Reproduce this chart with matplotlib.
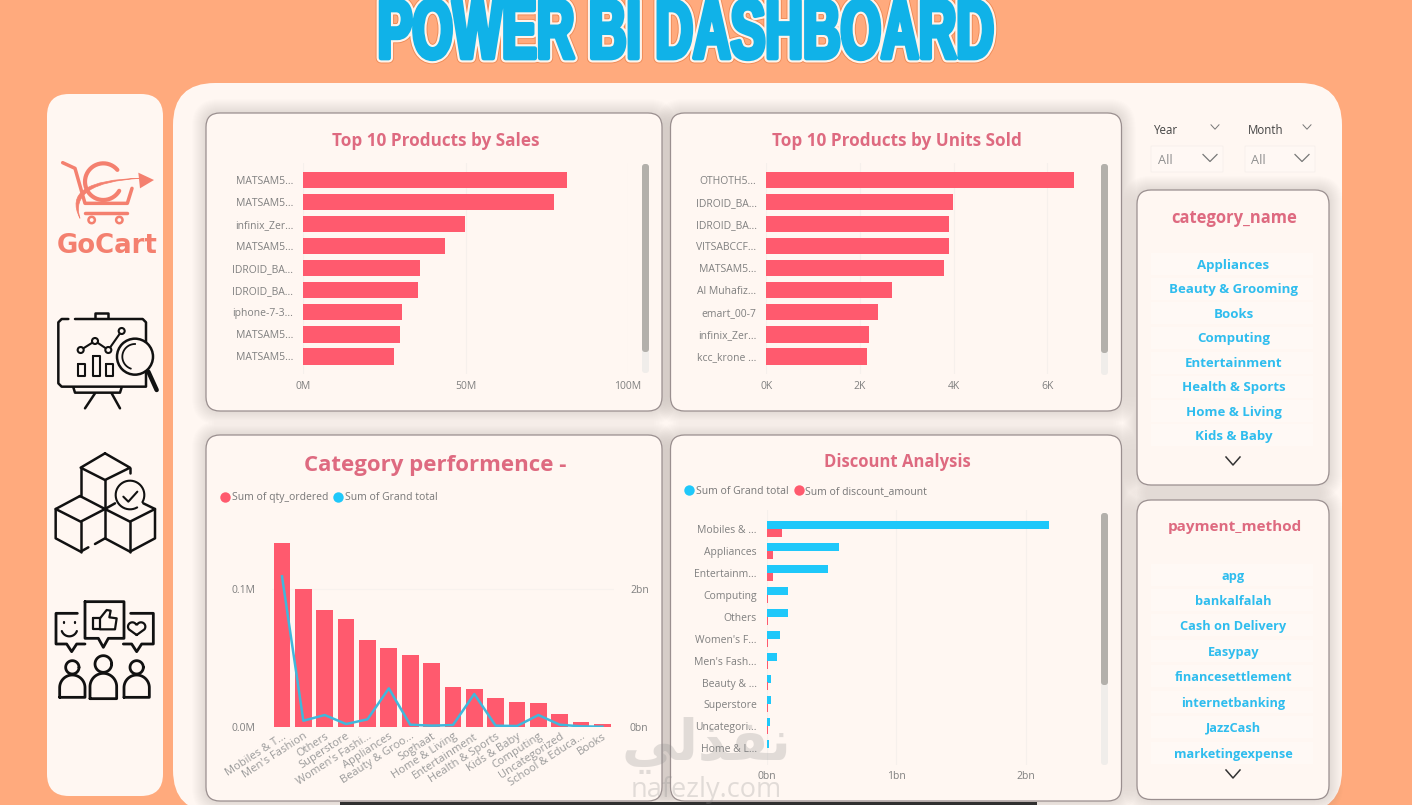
import numpy as np
import matplotlib
matplotlib.use("Agg")
import matplotlib.pyplot as plt
import matplotlib.patheffects as pe
from matplotlib.lines import Line2D
from matplotlib.patches import FancyBboxPatch, Circle, PathPatch, Polygon
from matplotlib.path import Path
from matplotlib.transforms import Affine2D

W, H = 1412, 805

# top 10 products by sales (M)
sales_labels = ["MATSAM5...", "MATSAM5...", "infinix_Zer...", "MATSAM5...", "IDROID_BA...",
                "IDROID_BA...", "iphone-7-3...", "MATSAM5...", "MATSAM5..."]
sales_values = [81.2, 77.1, 49.7, 43.6, 35.9, 35.3, 30.4, 29.9, 28.1]

# top 10 products by units (K)
units_labels = ["OTHOTH5...", "IDROID_BA...", "IDROID_BA...", "VITSABCCF...", "MATSAM5...",
                "Al Muhafiz...", "emart_00-7", "infinix_Zer...", "kcc_krone ..."]
units_values = [6.58, 3.99, 3.91, 3.90, 3.79, 2.68, 2.39, 2.19, 2.14]

# category performance
cat_labels = ["Mobiles & T...", "Men's Fashion", "Others", "Superstore", "Women's Fashi...",
              "Appliances", "Beauty & Groo...", "Soghaat", "Home & Living", "Entertainment",
              "Health & Sports", "Kids & Baby", "Computing", "Uncategorized",
              "School & Educa...", "Books"]
cat_qty = [0.134, 0.1005, 0.0847, 0.0784, 0.0629, 0.0573, 0.0522, 0.0466,
           0.0291, 0.0272, 0.0206, 0.0177, 0.0170, 0.0095, 0.0036, 0.0022]
cat_total = [2.19, 0.087, 0.17, 0.039, 0.107, 0.558, 0.029, 0.015,
             0.024, 0.476, 0.015, 0.01, 0.17, 0.029, 0.005, 0.0]

# discount analysis
disc_labels = ["Mobiles & ...", "Appliances", "Entertainm...", "Computing", "Others", "Women's F...",
               "Men's Fash...", "Beauty & ...", "Superstore", "Uncategori...", "Home & L..."]
disc_total = [2.18, 0.555, 0.473, 0.167, 0.162, 0.10, 0.08, 0.036, 0.031, 0.028, 0.02]
disc_amount = [0.12, 0.046, 0.046, 0.012, 0.008, 0.008, 0.008, 0.008, 0.008, 0.008, 0.006]

# slicers
category_items = ["Appliances", "Beauty & Grooming", "Books", "Computing",
                  "Entertainment", "Health & Sports", "Home & Living", "Kids & Baby"]
payment_items = ["apg", "bankalfalah", "Cash on Delivery", "Easypay",
                 "financesettlement", "internetbanking", "JazzCash", "marketingexpense"]

ORANGE = "#FFAA7D"
PANEL = "#FFF7F2"
RED = "#FF5A6E"
CYAN = "#1FC8FA"
TITLE = "#DE6A80"
GREY = "#808080"
LOGO = "#F4806F"
BLUE = "#10B2E8"
FONT = "Open Sans"

plt.rcParams["font.family"] = [FONT, "DejaVu Sans"]

fig = plt.figure(figsize=(W / 100, H / 100), dpi=100, facecolor=ORANGE)

bg = fig.add_axes([0, 0, 1, 1], zorder=0)
bg.set_xlim(0, W)
bg.set_ylim(H, 0)
bg.axis("off")


class Squeezed(pe.AbstractPathEffect):
    # no condensed heavy font here, so narrow the glyphs when they are drawn
    def __init__(self, sx, cx, layers):
        super().__init__()
        self.sx = sx
        self.cx = cx
        self.layers = layers

    def draw_path(self, renderer, gc, tpath, affine, rgbFace):
        squeezed = affine + Affine2D().translate(-self.cx, 0).scale(self.sx, 1).translate(self.cx, 0)
        for lw, color in self.layers:
            gc0 = renderer.new_gc()
            gc0.copy_properties(gc)
            gc0.set_linewidth(lw)
            gc0.set_foreground(color)
            gc0.set_joinstyle("round")
            renderer.draw_path(gc0, tpath, squeezed, rgbFace=matplotlib.colors.to_rgb(color))
            gc0.restore()


def rrect(x0, y0, x1, y1, r, fc=PANEL, ec="none", lw=0, ax=bg, z=1, alpha=None):
    p = FancyBboxPatch((x0, y0), x1 - x0, y1 - y0, boxstyle="round,pad=0,rounding_size=%s" % r,
                       fc=fc, ec=ec, lw=lw, zorder=z, alpha=alpha)
    ax.add_patch(p)


def card(x0, y0, x1, y1, r=14):
    # soft shadow, then the card itself
    for d in range(1, 15):
        rrect(x0 - d, y0 - d, x1 + d, y1 + d, r + d, fc="#7A5A5A", z=2, alpha=0.012)
    rrect(x0, y0, x1, y1, r, ec="#9A8F8F", lw=0.9, z=3)


def chart_axes(x0, x1, y0, y1, z=2):
    a = fig.add_axes([x0 / W, 1 - y1 / H, (x1 - x0) / W, (y1 - y0) / H], zorder=z)
    a.patch.set_alpha(0)
    for s in a.spines.values():
        s.set_visible(False)
    return a


def scrollbar(x0, x1, y0, y1, y2):
    rrect(x0, y0, x1, y2, 3, fc="#F0EDEA", z=4)
    rrect(x0, y0, x1, y1, 3, fc="#B3B0AB", z=5)


def chevron(x, y, w=7, h=4, color="#555555", lw=1.0):
    bg.plot([x - w, x, x + w], [y - h, y + h, y - h], color=color, lw=lw, zorder=6)


rrect(47, 94, 163, 796, 22)
rrect(173, 83, 1342, 812, 42)

card(206, 113, 662, 411)
card(670.5, 113, 1121.5, 411)
card(206, 435, 662, 801)
card(670.5, 435, 1121.5, 801)
card(1137, 190, 1329, 485)
card(1137, 500, 1329, 799.5)

bg.add_patch(plt.Rectangle((340, 802), 697, 4, fc="#303030", ec="none", zorder=7))

# page title
bg.text(686, 58, "POWER BI DASHBOARD", fontsize=60, fontweight="bold", color=BLUE,
        family="Liberation Sans", ha="center", va="baseline", zorder=8,
        path_effects=[Squeezed(0.625, 686, [(7.8, "#F08A55"), (6.5, "#FFF3EA"), (3.4, BLUE)])])

# chart titles
bg.text(435.5, 141, "Top 10 Products by Sales", fontsize=12.3, fontweight="bold", color=TITLE, ha="center", va="center", zorder=6)
bg.text(897, 141, "Top 10 Products by Units Sold", fontsize=12.3, fontweight="bold", color=TITLE, ha="center", va="center", zorder=6)
bg.text(434.7, 465.5, "Category performence -", fontsize=16, fontweight="bold", color=TITLE, ha="center", va="center", zorder=6)
bg.text(897.5, 462, "Discount Analysis", fontsize=12, fontweight="bold", color=TITLE, ha="center", va="center", zorder=6)


def bar_chart(a, labels, values, xlim, ticks, ticklabels):
    y = np.arange(len(values))
    a.barh(y, values, height=0.74, color=RED, zorder=3)
    a.set_xlim(*xlim)
    a.set_yticks(y, labels)
    a.set_xticks(ticks, ticklabels)
    a.tick_params(axis="both", length=0, labelsize=7.5, labelcolor=GREY)
    a.tick_params(axis="y", pad=7)
    a.tick_params(axis="x", pad=5)
    a.grid(axis="x", color="#F6F0EC", lw=0.8, zorder=0)
    a.set_axisbelow(True)


ax1 = chart_axes(303, 628, 163, 374)
bar_chart(ax1, sales_labels, sales_values, (0, 100), [0, 50, 100], ["0M", "50M", "100M"])
ax1.set_ylim((374 - 180) / 22.05, (163 - 180) / 22.05)
scrollbar(642, 649, 164, 352, 373)

ax2 = chart_axes(766.3, 1094.1, 163, 374)
bar_chart(ax2, units_labels, units_values, (0, 7), [0, 2, 4, 6], ["0K", "2K", "4K", "6K"])
ax2.set_ylim((374 - 180) / 22.05, (163 - 180) / 22.05)
scrollbar(1101, 1108, 164, 353, 375)

# category performance, columns and line on two scales
ax3 = chart_axes(272, 614, 530, 726.7)
xpos = np.arange(len(cat_qty))
ax3.bar(xpos, cat_qty, width=0.78, color=RED, zorder=3)
ax3.set_xlim(-0.468, 15.54)
ax3.set_ylim(0, 0.1432)
ax3.set_yticks([0, 0.1], ["0.0M", "0.1M"])
ax3.set_xticks(xpos, cat_labels, rotation=33, ha="right", va="top", rotation_mode="anchor")
ax3.tick_params(axis="x", length=0, labelsize=8, labelcolor="#9A9A9A", pad=3)
ax3.tick_params(axis="y", length=0, labelsize=7.5, labelcolor=GREY, pad=12)
ax3.grid(axis="y", color="#F8F2EE", lw=0.8)
ax3.set_axisbelow(True)

ax3b = ax3.twinx()
ax3b.patch.set_alpha(0)
for s in ax3b.spines.values():
    s.set_visible(False)
ax3b.plot(xpos, cat_total, color="#3FB8DC", lw=1.8, zorder=5, solid_joinstyle="round")
ax3b.set_ylim(0, 2.864)
ax3b.set_yticks([0, 2], ["0bn", "2bn"])
ax3b.tick_params(axis="y", length=0, labelsize=7.5, labelcolor=GREY, pad=11.5)

# discount analysis, grouped bars
ax4 = chart_axes(766.7, 1091, 510, 765)
ypos = np.arange(len(disc_total))
ax4.barh(ypos - 0.18, disc_total, height=0.365, color=CYAN, zorder=3)
ax4.barh(ypos + 0.18, disc_amount, height=0.365, color=RED, zorder=3)
ax4.set_xlim(0, 2.5)
ax4.set_ylim((765 - 529) / 21.93, (510 - 529) / 21.93)
ax4.set_yticks(ypos, disc_labels)
ax4.set_xticks([0, 1, 2], ["0bn", "1bn", "2bn"])
ax4.tick_params(axis="both", length=0, labelsize=7.5, labelcolor=GREY)
ax4.tick_params(axis="y", pad=7)
ax4.tick_params(axis="x", pad=4)
ax4.grid(axis="x", color="#F6F0EC", lw=0.8)
ax4.set_axisbelow(True)
scrollbar(1101, 1108, 513, 685, 765)


def legend_row(a, x, y, names, colors, spacing):
    handles = [Line2D([], [], ls="none", marker="o", ms=7.5, mec="none", color=c) for c in colors]
    a.legend(handles, names, loc="center left", bbox_to_anchor=(x / W, 1 - y / H), bbox_transform=fig.transFigure,
             ncols=len(names), frameon=False, fontsize=7.5, labelcolor="#777777", handletextpad=0.05,
             columnspacing=spacing, borderpad=0, borderaxespad=0, handlelength=1.2)


legend_row(ax3b, 218.5, 497.8, ["Sum of qty_ordered", "Sum of Grand total"], [RED, CYAN], 0.35)
legend_row(ax4, 683, 491.2, ["Sum of Grand total", "Sum of discount_amount"], [CYAN, RED], 0.35)

# slicers
for tx, label, chx in [(1154, "Year", 1215), (1248, "Month", 1307)]:
    bg.text(tx, 130, label, fontsize=8.3, color="#444444", va="center", zorder=6)
    chevron(chx, 127, w=4, h=2.2, color="#777777", lw=0.7)
for x0, x1, tx, chx in [(1151, 1223, 1158, 1210), (1245, 1315, 1251, 1302)]:
    rrect(x0, 146, x1, 172, 1, fc="#FFF8F4", ec="#F8F1ED", lw=0.8, z=2)
    bg.text(tx, 160, "All", fontsize=9.2, color="#909090", va="center", zorder=6)
    chevron(chx, 158, w=7, h=3.5, color="#777777", lw=0.9)

bg.text(1234, 217.5, "category_name", fontsize=11.9, fontweight="bold", color=TITLE, ha="center", va="center", zorder=6)
bg.text(1234.5, 527, "payment_method", fontsize=11, fontweight="bold", color=TITLE, ha="center", va="center", zorder=6)

cat_rows = [264, 288.7, 313, 337.7, 362.7, 386.7, 411.3, 435.3]
pay_rows = [575, 600, 625, 651, 676, 702, 727, 753]
for name, yy in zip(category_items, cat_rows):
    bg.add_patch(plt.Rectangle((1151, yy - 11), 162, 22, fc="#FFF9F5", ec="none", zorder=4))
    bg.text(1233.5, yy + 1, name, fontsize=9.5, fontweight="bold", color="#2FBDEE", ha="center", va="center", zorder=6)
for name, yy in zip(payment_items, pay_rows):
    bg.add_patch(plt.Rectangle((1151, yy - 11), 162, 22, fc="#FFF9F5", ec="none", zorder=4))
    bg.text(1233.5, yy + 1, name, fontsize=9.2, fontweight="bold", color="#2FBDEE", ha="center", va="center", zorder=6)
chevron(1233, 461, w=7, h=4, color="#333333", lw=1.1)
chevron(1233, 774, w=7, h=4, color="#333333", lw=1.1)


# sidebar icons, drawn from the shapes in the picture
def pts(ox, oy, seq):
    return [ox + p[0] / 3 for p in seq], [oy + p[1] / 3 for p in seq]


def stroke(ox, oy, seq, color="#111111", lw=1.8):
    xs, ys = pts(ox, oy, seq)
    bg.plot(xs, ys, color=color, lw=lw, zorder=6, solid_capstyle="round", solid_joinstyle="round")


def arc(cx, cy, r, a0, a1):
    t = np.radians(np.linspace(a0, a1, 40))
    return list(zip(cx + r * np.cos(t), cy - r * np.sin(t)))


# cart logo
ox, oy = 40, 140
stroke(ox, oy, [(68, 68), (105, 85), (135, 190), (262, 190), (276, 145)], LOGO, 2.5)
stroke(ox, oy, [(135, 218), (262, 218)], LOGO, 2.5)
stroke(ox, oy, arc(190, 125, 55, 40, 330), LOGO, 3)
for cx in (155, 238):
    bg.add_patch(Circle((ox + cx / 3, oy + 240 / 3), 3.2, fc="none", ec=LOGO, lw=1.8, zorder=6))
swoosh = [(120, 235), (60, 120), (300, 115), (85, 128), (120, 235)]
xs, ys = pts(ox, oy, swoosh)
bg.add_patch(PathPatch(Path(list(zip(xs, ys)), [Path.MOVETO, Path.CURVE3, Path.CURVE3, Path.CURVE3, Path.CURVE3]),
                       fc=LOGO, ec=LOGO, lw=0.5, zorder=6))
xs, ys = pts(ox, oy, [(295, 98), (342, 120), (300, 145)])
bg.add_patch(Polygon(list(zip(xs, ys)), fc=LOGO, ec="none", zorder=6))
bg.text(107, 246, "GoCart", fontsize=18.7, fontweight="bold", color=LOGO, family="DejaVu Sans", ha="center", va="center", zorder=6)

# presentation board with magnifier
stroke(ox, oy, [(85, 537), (65, 537), (55, 547), (55, 730), (65, 740), (318, 740), (318, 547), (308, 537), (105, 537)])
stroke(ox, oy, [(165, 535), (165, 518), (205, 518), (205, 535)])
stroke(ox, oy, [(100, 742), (105, 758), (240, 758), (245, 742)])
stroke(ox, oy, [(165, 760), (135, 805)])
stroke(ox, oy, [(215, 760), (240, 805)])
stroke(ox, oy, [(122, 630), (165, 603), (205, 630), (245, 573)], lw=1.5)
for p in [(122, 630), (165, 603), (205, 630), (245, 573)]:
    bg.add_patch(Circle((ox + p[0] / 3, oy + p[1] / 3), 3, fc=PANEL, ec="#111111", lw=1.5, zorder=7))
for r0, r1 in [((115, 672), (135, 708)), ((158, 648), (180, 708)), ((198, 672), (218, 708))]:
    stroke(ox, oy, [r0, (r1[0], r0[1]), r1, (r0[0], r1[1]), r0], lw=1.5)
bg.add_patch(Circle((ox + 285 / 3, oy + 650 / 3), 18, fc=PANEL, ec="#111111", lw=1.8, zorder=7))
bg.plot(*pts(ox, oy, arc(285, 650, 38, 90, 250)), color="#111111", lw=1.3, zorder=8)
stroke(ox, oy, [(325, 695), (350, 750)], lw=3.2)

# cubes with tick
ox, oy = 40, 440
stroke(ox, oy, [(195, 40), (270, 83), (195, 120), (122, 83), (195, 40)])
stroke(ox, oy, [(122, 83), (122, 165)])
stroke(ox, oy, [(195, 120), (195, 295)])
stroke(ox, oy, [(270, 83), (270, 100)])
stroke(ox, oy, [(120, 168), (195, 207), (122, 245), (47, 207), (120, 168)])
stroke(ox, oy, [(47, 207), (47, 295), (122, 335), (145, 322)])
stroke(ox, oy, [(122, 245), (122, 335)])
stroke(ox, oy, [(165, 312), (195, 295), (270, 335), (345, 295), (345, 207), (310, 190)])
stroke(ox, oy, [(195, 207), (225, 190)])
stroke(ox, oy, [(195, 207), (270, 245), (345, 207)])
stroke(ox, oy, [(270, 245), (270, 335)])
stroke(ox, oy, arc(270, 165, 43, -30, 300), lw=1.5)
stroke(ox, oy, [(250, 170), (265, 185), (292, 155)], lw=1.5)

# people with speech bubbles
stroke(ox, oy, [(135, 485), (252, 485), (252, 595), (205, 595), (190, 622), (175, 595), (135, 595), (135, 485)], lw=2)
stroke(ox, oy, [(112, 520), (48, 520), (48, 612), (80, 612), (95, 635), (110, 612), (135, 612)], lw=2)
stroke(ox, oy, [(272, 520), (340, 520), (340, 612), (305, 612), (290, 635), (275, 612), (250, 612)], lw=2)
stroke(ox, oy, arc(88, 565, 24, 200, 340), lw=1.6)
for dx in (72, 104):
    stroke(ox, oy, [(dx, 545), (dx, 550)], lw=1.6)
stroke(ox, oy, [(160, 535), (180, 535), (180, 568), (160, 568), (160, 535)], lw=1.6)
stroke(ox, oy, [(180, 535), (200, 510), (212, 512), (208, 532), (230, 535), (225, 568), (180, 568)], lw=1.6)
heart = [(290, 585)] + arc(277, 560, 13, 220, 30) + arc(303, 560, 13, 150, -40) + [(290, 585)]
stroke(ox, oy, heart, lw=1.6)
for cx, cy, r, w, top, bot in [(97, 682, 20, 38, 705, 772), (190, 672, 25, 40, 700, 776), (290, 682, 20, 38, 705, 772)]:
    stroke(ox, oy, arc(cx, cy, r, 0, 360), lw=2)
    body = [(cx - w, bot)] + arc(cx, top + w, w, 180, 0) + [(cx + w, bot), (cx - w, bot)]
    stroke(ox, oy, body, lw=2)

# watermark on top of everything
top = fig.add_axes([0, 0, 1, 1], zorder=10)
top.set_xlim(0, W)
top.set_ylim(H, 0)
top.axis("off")
top.patch.set_alpha(0)
top.text(706, 745, "\ufef2\ufedf\ufeac\ufed4\ufee7", fontsize=40, fontweight="bold", family="DejaVu Sans", color="#8A8A8A",
         alpha=0.25, ha="center", va="center")
top.text(706, 790, "nafezly.com", fontsize=19.5, family=FONT, color="#8A8A8A", alpha=0.25, ha="center", va="center")

fig.savefig("out.png", dpi=100, facecolor=ORANGE)
